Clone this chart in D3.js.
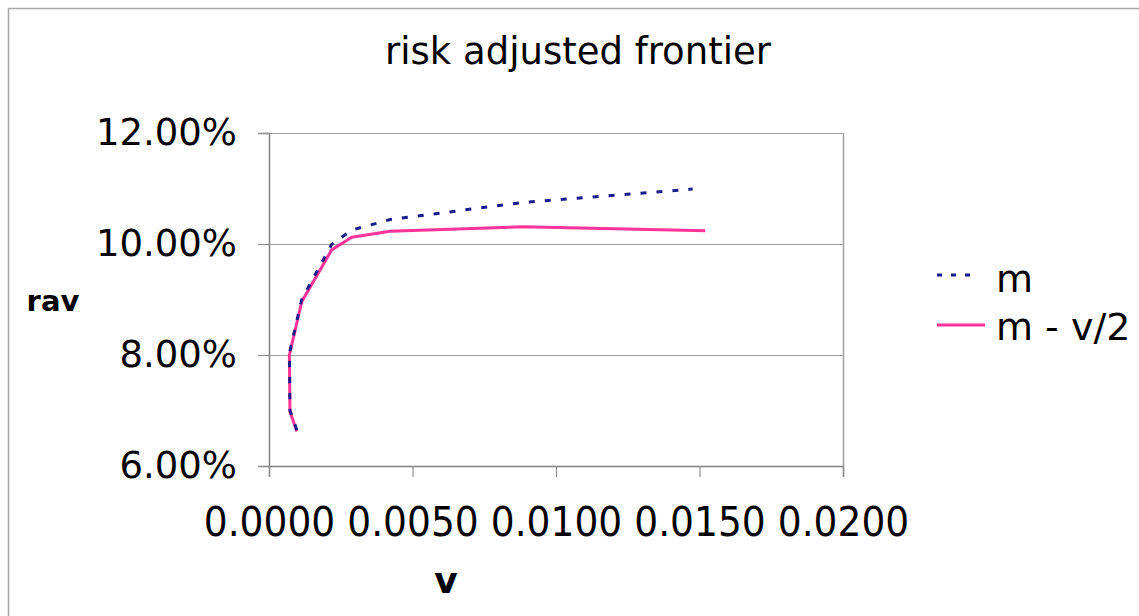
<!DOCTYPE html>
<html>
<head>
<meta charset="utf-8">
<script src="https://cdn.jsdelivr.net/npm/d3@7"></script>
<style>
  body { margin: 0; background: #fff; }
  svg { display: block; font-family: "DejaVu Sans", Verdana, sans-serif; }
</style>
</head>
<body>
<svg id="chart" width="1139" height="616"></svg>
<script>
// risk adjusted frontier
// values

const vTicks = [0, 0.005, 0.010, 0.015, 0.020];
const ravTicks = [0.06, 0.08, 0.10, 0.12];

// m (dotted navy)
const mV   = [0.00097, 0.00073, 0.00071, 0.00114, 0.00218, 0.00288, 0.00422, 0.00886, 0.01476];
const mRav = [0.0665, 0.0700, 0.0803, 0.0900, 0.0999, 0.1025, 0.1044, 0.1075, 0.1099];

// m - v/2 (pink)
const adjV   = [0.00097, 0.00073, 0.00071, 0.00114, 0.00218, 0.00288, 0.00422, 0.00886, 0.0152];
const adjRav = [0.0662, 0.0698, 0.0800, 0.0896, 0.0989, 0.1012, 0.1023, 0.1031, 0.1024];

const seriesNames = ["m", "m - v/2"];

const svg = d3.select("#chart");

const plot = { left: 269, right: 843, top: 133, bottom: 466 };

const x = d3.scaleLinear().domain([0, 0.02]).range([plot.left, plot.right]);
const y = d3.scaleLinear().domain([0.06, 0.12]).range([plot.bottom, plot.top]);

// outer frame (page box)
svg.append("path")
        .attr("d", "M8.5,616 V8.5 H1139")
        .attr("fill", "none")
        .attr("stroke", "#a8a8a8")
        .attr("stroke-width", 1.5);

// title
svg.append("text")
        .attr("x", 578)
        .attr("y", 64)
        .attr("text-anchor", "middle")
        .attr("font-size", "37px")
        .attr("fill", "#000")
        .text("risk adjusted frontier");

// gridlines
svg.append("g")
        .selectAll("line")
        .data(ravTicks.slice(1))
        .join("line")
        .attr("x1", plot.left)
        .attr("x2", plot.right)
        .attr("y1", d => Math.round(y(d)) + 0.5)
        .attr("y2", d => Math.round(y(d)) + 0.5)
        .attr("stroke", "#a0a0a0")
        .attr("stroke-width", 1.2);

// right border of plot
svg.append("line")
        .attr("x1", plot.right + 0.5)
        .attr("x2", plot.right + 0.5)
        .attr("y1", plot.top)
        .attr("y2", plot.bottom)
        .attr("stroke", "#a0a0a0")
        .attr("stroke-width", 1.5);

// y axis
const yAxis = svg.append("g")
        .attr("transform", "translate(" + plot.left + ",0)")
        .call(d3.axisLeft(y)
                .tickValues(ravTicks)
                .tickFormat(d3.format(".2%"))
                .tickSize(11)
                .tickPadding(21));
yAxis.selectAll("text")
        .attr("font-size", "37px")
        .attr("font-family", "DejaVu Sans, sans-serif")
        .attr("fill", "#000");

// x axis
const xAxis = svg.append("g")
        .attr("transform", "translate(0," + plot.bottom + ")")
        .call(d3.axisBottom(x)
                .tickValues(vTicks)
                .tickFormat(d3.format(".4f"))
                .tickSize(11)
                .tickPadding(31));
// tick labels in the original are a bit narrower than they are tall
xAxis.selectAll("text")
        .attr("font-size", "40px")
        .attr("font-family", "DejaVu Sans, sans-serif")
        .attr("transform", "scale(0.94,1)")
        .attr("fill", "#000");

[yAxis, xAxis].forEach(a => {
        a.select(".domain").attr("stroke", "#808080").attr("stroke-width", 1.5);
        a.selectAll(".tick line").attr("stroke", "#909090").attr("stroke-width", 1.2);
});

// axis titles
svg.append("text")
        .attr("x", 53)
        .attr("y", 311)
        .attr("text-anchor", "middle")
        .attr("font-size", "29px")
        .attr("font-weight", "bold")
        .text("rav");

svg.append("text")
        .attr("x", 446)
        .attr("y", 593)
        .attr("text-anchor", "middle")
        .attr("font-size", "36px")
        .attr("font-weight", "bold")
        .text("v");

// lines
const line = d3.line()
        .x(d => x(d[0]))
        .y(d => y(d[1]));

const mPts = mV.map((v, i) => [v, mRav[i]]);
const adjPts = adjV.map((v, i) => [v, adjRav[i]]);

svg.append("path")
        .datum(adjPts)
        .attr("d", line)
        .attr("fill", "none")
        .attr("stroke", "#ff3399")
        .attr("stroke-width", 3)
        .attr("stroke-linejoin", "round");

svg.append("path")
        .datum(mPts)
        .attr("d", line)
        .attr("fill", "none")
        .attr("stroke", "#1c1c8c")
        .attr("stroke-width", 3)
        .attr("stroke-dasharray", "6,10");

// legend
const legend = svg.append("g");
const legendStyles = [
        { stroke: "#1c1c8c", dash: "5,9", x2: 975, y: 275, ty: 292 },
        { stroke: "#ff3399", dash: null, x2: 985, y: 325, ty: 340 }
];

seriesNames.forEach((name, i) => {
        const s = legendStyles[i];
        legend.append("line")
                .attr("x1", 937)
                .attr("x2", s.x2)
                .attr("y1", s.y)
                .attr("y2", s.y)
                .attr("stroke", s.stroke)
                .attr("stroke-width", 3)
                .attr("stroke-dasharray", s.dash);
        legend.append("text")
                .attr("x", 996)
                .attr("y", s.ty)
                .attr("font-size", "38px")
                .attr("fill", "#000")
                .text(name);
});
</script>
</body>
</html>
